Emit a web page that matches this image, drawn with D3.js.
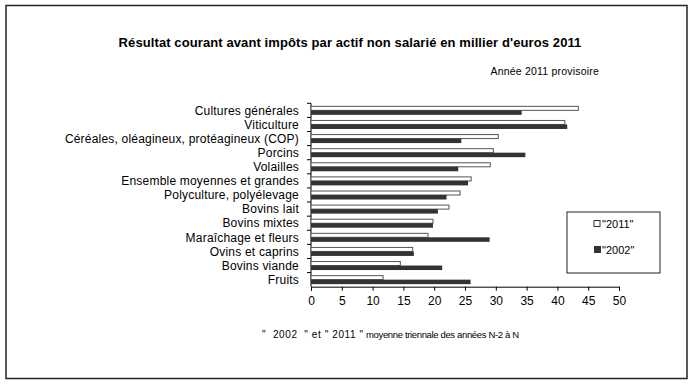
<!DOCTYPE html>
<html>
<head>
<meta charset="utf-8">
<script src="https://cdn.jsdelivr.net/npm/d3@7"></script>
<style>
  body { margin: 0; background: #fff; }
  text { font-family: "Liberation Sans", Arial, sans-serif; fill: #000; }
</style>
</head>
<body>
<div id="chart"></div>
<script>
// categories, top to bottom
const categories = [
  "Cultures générales", "Viticulture", "Céréales, oléagineux, protéagineux (COP)",
  "Porcins", "Volailles", "Ensemble moyennes et grandes", "Polyculture, polyélevage",
  "Bovins lait", "Bovins mixtes", "Maraîchage et fleurs", "Ovins et caprins",
  "Bovins viande", "Fruits"
];
const values2011 = [43.4, 41.2, 30.4, 29.6, 29.1, 26.0, 24.2, 22.4, 19.8, 19.0, 16.5, 14.5, 11.7];
const values2002 = [34.2, 41.6, 24.4, 34.8, 23.9, 25.5, 22.0, 20.6, 19.8, 29.0, 16.7, 21.3, 25.9];
const xTicks = [0, 5, 10, 15, 20, 25, 30, 35, 40, 45, 50];
const seriesNames = ['"2011"', '"2002"'];

const W = 695, H = 385;
const svg = d3.select("#chart").append("svg")
  .attr("width", W).attr("height", H);

// outer frame
svg.append("rect")
  .attr("x", 6).attr("y", 5.5).attr("width", 681).attr("height", 373)
  .attr("fill", "none").attr("stroke", "#222").attr("stroke-width", 1.5);

svg.append("text")
  .attr("x", 350).attr("y", 47)
  .attr("text-anchor", "middle")
  .style("font-weight", "bold").style("font-size", "13px")
  .style("letter-spacing", "0.1px")
  .text("Résultat courant avant impôts par actif non salarié en millier d'euros 2011");

svg.append("text")
  .attr("x", 599).attr("y", 75)
  .attr("text-anchor", "end").style("font-size", "10.5px")
  .style("letter-spacing", "0.2px")
  .text("Année 2011 provisoire");

const x = d3.scaleLinear().domain([0, 50]).range([311, 619]);
const y = d3.scaleBand().domain(categories).range([103.3, 286.7]);
const inner = d3.scaleBand().domain([0, 1]).range([0, 9]);

// y axis line + ticks at band boundaries
const g = svg.append("g");
g.append("line")
  .attr("x1", 311).attr("x2", 311).attr("y1", 103.3).attr("y2", 286.7)
  .attr("stroke", "#000");
categories.forEach(c => {
  g.append("line")
    .attr("x1", 307).attr("x2", 311)
    .attr("y1", y(c)).attr("y2", y(c))
    .attr("stroke", "#000");
});

// x axis
const xAxis = svg.append("g")
  .attr("transform", "translate(0,286.7)")
  .call(d3.axisBottom(x).tickValues(xTicks).tickSize(4).tickPadding(6));
xAxis.select(".domain").attr("stroke", "#000");
xAxis.selectAll("text").style("font-size", "12px").style("font-family", "Liberation Sans, Arial, sans-serif");

// category labels
svg.append("g").selectAll("text")
  .data(categories).enter().append("text")
  .attr("x", 299)
  .attr("y", d => y(d) + y.bandwidth() / 2)
  .attr("dy", "0.35em")
  .attr("text-anchor", "end")
  .style("font-size", "12px")
  .style("letter-spacing", "0.2px")
  .text(d => d);

const off = (y.bandwidth() - 9) / 2;
// 2011 bars (white)
svg.append("g").selectAll("rect")
  .data(categories).enter().append("rect")
  .attr("x", x(0))
  .attr("y", d => y(d) + off + inner(0) + 0.5)
  .attr("width", (d, i) => x(values2011[i]) - x(0))
  .attr("height", inner.bandwidth() - 0.5)
  .attr("fill", "#fff").attr("stroke", "#555").attr("stroke-width", 1);
// 2002 bars (dark)
svg.append("g").selectAll("rect")
  .data(categories).enter().append("rect")
  .attr("x", x(0))
  .attr("y", d => y(d) + off + inner(1))
  .attr("width", (d, i) => x(values2002[i]) - x(0))
  .attr("height", inner.bandwidth())
  .attr("fill", "#333");

// legend
const leg = svg.append("g");
leg.append("rect")
  .attr("x", 567).attr("y", 212).attr("width", 93).attr("height", 61)
  .attr("fill", "#fff").attr("stroke", "#222").attr("stroke-width", 1);
leg.append("rect").attr("x", 594).attr("y", 220.5).attr("width", 6).attr("height", 6)
  .attr("fill", "#fff").attr("stroke", "#333");
leg.append("rect").attr("x", 594).attr("y", 246).attr("width", 7).attr("height", 7)
  .attr("fill", "#333");
leg.append("text").attr("x", 602).attr("y", 228).style("font-size", "11px").text(seriesNames[0]);
leg.append("text").attr("x", 602).attr("y", 254).style("font-size", "11px").text(seriesNames[1]);

// footnote
const foot = svg.append("text").attr("y", 338).attr("xml:space", "preserve");
foot.append("tspan").attr("x", 262).style("font-size", "10px")
  .style("letter-spacing", "0.6px")
  .text('"  2002  " et " 2011 "');
foot.append("tspan").attr("x", 366).style("font-size", "9.5px")
  .style("letter-spacing", "-0.35px")
  .text("moyenne triennale des années N-2 à N");
</script>
</body>
</html>
